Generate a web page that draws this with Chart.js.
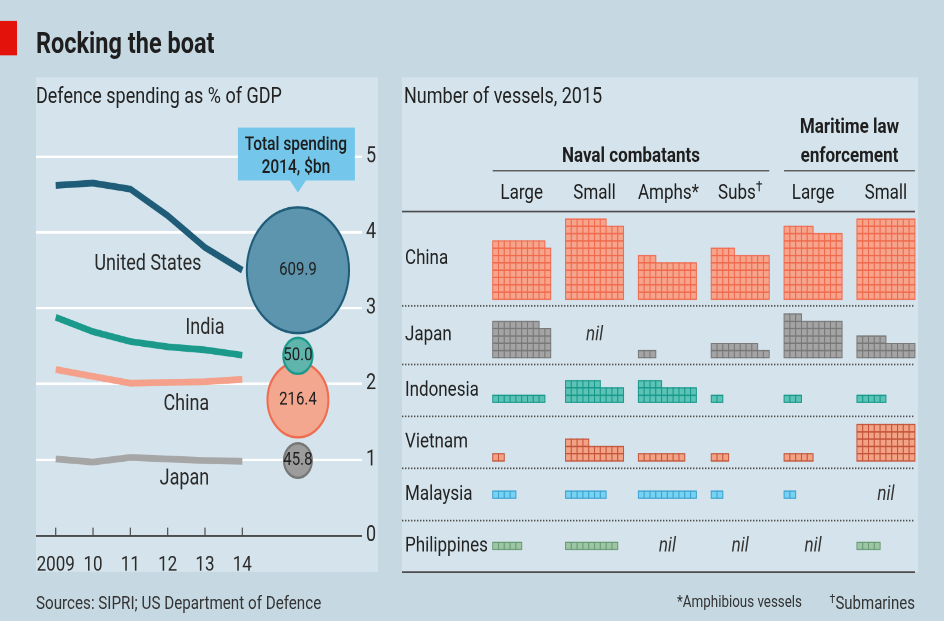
<!DOCTYPE html>
<html>
<head>
<meta charset="utf-8">
<script src="https://cdn.jsdelivr.net/npm/chart.js@4.4.1/dist/chart.umd.min.js"></script>
<style>
  html, body { margin: 0; padding: 0; background: #c6d9e3; }
  body { width: 944px; height: 621px; overflow: hidden; }
  #page { position: relative; width: 944px; height: 505px; transform: scaleY(1.2297); transform-origin: 0 0;
          font-family: Roboto, 'Noto Sans', sans-serif; color: #222; }
  .abs { position: absolute; line-height: 1; white-space: nowrap; }
  .panel { position: absolute; background: #d5e4ec; }
  sup { font-size: 70%; vertical-align: 0.45em; line-height: 0; }
</style>
</head>
<body>
<div id="page">
  <div class="abs" style="left:0;top:17px;width:17px;height:28px;background:#e3120b"></div>
  <div class="abs" style="left:36px;top:24px;font-size:23.5px;font-weight:700;color:#1e1e1e">Rocking the boat</div>
  <div class="panel" style="left:36px;top:63.4px;width:342px;height:401.8px"></div>
  <div class="panel" style="left:402px;top:63.4px;width:516px;height:401.8px"></div>
  <div class="abs" style="left:36px;top:68.5px;font-size:18px">Defence spending as % of GDP</div>
  <div class="abs" style="left:404px;top:68.5px;font-size:18px">Number of vessels, 2015</div>
  <div class="abs" style="left:36px;top:63.4px;width:342px;height:412px"><canvas id="gdp"></canvas></div>
  <div class="abs" style="left:402px;top:63.4px;width:516px;height:405.8px"><canvas id="vessels"></canvas></div>
  <div class="abs" style="left:36px;top:482.5px;font-size:15.2px;color:#333">Sources: SIPRI; US Department of Defence</div>
  <div class="abs" style="left:677px;top:482.5px;font-size:13.4px;color:#333">*Amphibious vessels</div>
  <div class="abs" style="right:29px;top:482.5px;font-size:15px;color:#333"><sup>†</sup>Submarines</div>
</div>
<script>
// defence spending, % of GDP
var years = [2009, 2010, 2011, 2012, 2013, 2014];
var yearLabels = ['2009', '10', '11', '12', '13', '14'];
var gdpTicks = [0, 1, 2, 3, 4, 5];
var usShare = [4.62, 4.65, 4.57, 4.22, 3.80, 3.50];
var indiaShare = [2.88, 2.69, 2.56, 2.49, 2.45, 2.38];
var chinaShare = [2.19, 2.10, 2.01, 2.02, 2.03, 2.06];
var japanShare = [1.01, 0.97, 1.03, 1.01, 0.99, 0.98];
var spendNames = ['United States', 'India', 'China', 'Japan'];
var spend2014 = [609.9, 50.0, 216.4, 45.8];

// number of vessels, 2015 (0 = nil)
var vesselCountries = ['China', 'Japan', 'Indonesia', 'Vietnam', 'Malaysia', 'Philippines'];
var vesselTypes = ['Large', 'Small', 'Amphs', 'Subs', 'Large', 'Small'];
var chinaVessels = [79, 107, 53, 64, 95, 110];
var japanVessels = [48, 0, 3, 18, 53, 25];
var indonesiaVessels = [9, 26, 24, 2, 3, 5];
var vietnamVessels = [2, 24, 8, 3, 5, 50];
var malaysiaVessels = [4, 7, 10, 2, 2, 0];
var philippinesVessels = [5, 9, 0, 0, 0, 4];

// layout / styling
var lineCol = ['#1f5c78', '#1b9a8c', '#f4a08a', '#a6a6a6'];
var bubFill = ['#5e95ae', '#5fb5ac', '#f3a78f', '#9c9c9c'];
var bubEdge = ['#1f5c78', '#1b9a8c', '#ef6c50', '#777777'];
var bubbleX = 2015.49;
var bubbleY = [3.5, 2.37, 1.79, 0.99];
var namePos = [[2011.47, 3.58], [2013.0, 2.73], [2012.5, 1.73], [2012.45, 0.75]];

var cellFill = ['#f6a48c', '#a4a4a4', '#5cc3b6', '#f2a285', '#78d2f2', '#9dc6a4'];
var cellEdge = ['#f06a4e', '#797979', '#18998b', '#c4553b', '#3ba2d2', '#6b9a77'];
var groupStep = 12.56;
var rowBase = [37.3, 29.3, 23.2, 15.2, 10.1, 3.1];
var sepRows = [36.4, 28.4, 21.3, 14.2, 7.05];
var topRule = 49.3;

var FONT = "Roboto, 'Noto Sans', sans-serif";

// ---------- left: % of GDP lines + spending bubbles ----------
var gdpDecor = {
  id: 'gdpDecor',
  beforeDatasetsDraw: function(chart) {
    var ctx = chart.ctx, x = chart.scales.x, y = chart.scales.y;
    var base = y.getPixelForValue(0);
    ctx.save();
    ctx.strokeStyle = '#4d4d4d';
    ctx.lineWidth = 1.2;
    years.forEach(function(yr) {
      var px = x.getPixelForValue(yr);
      ctx.beginPath();
      ctx.moveTo(px, base);
      ctx.lineTo(px, base - 6.5);
      ctx.stroke();
    });
    ctx.restore();
  },
  afterDatasetsDraw: function(chart) {
    var ctx = chart.ctx, x = chart.scales.x, y = chart.scales.y;
    ctx.save();
    ctx.textAlign = 'center';
    ctx.textBaseline = 'middle';
    ctx.fillStyle = '#1e1e1e';
    ctx.font = '15px ' + FONT;
    spend2014.forEach(function(v, i) {
      ctx.fillText(v.toFixed(1), x.getPixelForValue(bubbleX), y.getPixelForValue(bubbleY[i]));
    });
    ctx.font = '18px ' + FONT;
    ctx.fillStyle = '#2a2a2a';
    spendNames.forEach(function(n, i) {
      ctx.fillText(n, x.getPixelForValue(namePos[i][0]), y.getPixelForValue(namePos[i][1]));
    });
    // callout
    var cx = x.getPixelForValue(bubbleX), y5 = y.getPixelForValue(5);
    ctx.fillStyle = '#74c7ea';
    ctx.beginPath();
    ctx.moveTo(cx - 60, y5 - 23.6);
    ctx.lineTo(cx + 57, y5 - 23.6);
    ctx.lineTo(cx + 57, y5 + 19.5);
    ctx.lineTo(cx + 8, y5 + 19.5);
    ctx.lineTo(cx, y5 + 29.3);
    ctx.lineTo(cx - 8, y5 + 19.5);
    ctx.lineTo(cx - 60, y5 + 19.5);
    ctx.closePath();
    ctx.fill();
    ctx.fillStyle = '#1e1e1e';
    ctx.font = '500 15.5px ' + FONT;
    ctx.textBaseline = 'alphabetic';
    ctx.fillText('Total spending', cx - 2, y5 - 5.5);
    ctx.fillText('2014, $bn', cx - 2, y5 + 13);
    ctx.restore();
  }
};

var gdpSets = [usShare, indiaShare, chinaShare, japanShare].map(function(vals, i) {
  return {
    type: 'line',
    data: years.map(function(yr, j) { return { x: yr, y: vals[j] }; }),
    borderColor: lineCol[i],
    borderWidth: 5.5,
    pointRadius: 0,
    tension: 0,
    fill: false,
    order: 10
  };
});
var bubbleOrder = [4, 2, 3, 1];
spend2014.forEach(function(v, i) {
  gdpSets.push({
    type: 'bubble',
    data: [{ x: bubbleX, y: bubbleY[i], r: 2.07 * Math.sqrt(v) }],
    backgroundColor: bubFill[i],
    borderColor: bubEdge[i],
    borderWidth: 2,
    order: bubbleOrder[i],
    clip: false
  });
});

new Chart(document.getElementById('gdp'), {
  type: 'line',
  data: { datasets: gdpSets },
  plugins: [gdpDecor],
  options: {
    responsive: true,
    maintainAspectRatio: false,
    devicePixelRatio: 2,
    animation: false,
    events: [],
    layout: { autoPadding: false, padding: { top: 64.3, left: 0, right: 0, bottom: 0 } },
    plugins: { legend: { display: false }, tooltip: { enabled: false } },
    scales: {
      x: {
        type: 'linear',
        min: 2008.472,
        max: 2017.207,
        afterBuildTicks: function(s) { s.ticks = years.map(function(v) { return { value: v }; }); },
        afterFit: function(s) { s.height = 39.5; s.paddingLeft = 0; s.paddingRight = 0; },
        grid: { display: false },
        border: { display: false },
        ticks: {
          autoSkip: false, maxRotation: 0, padding: 6, color: '#2a2a2a',
          font: { family: FONT, size: 17 },
          callback: function(v) { return yearLabels[years.indexOf(v)]; }
        }
      },
      y: {
        position: 'right',
        min: 0,
        max: 5,
        afterBuildTicks: function(s) { s.ticks = gdpTicks.map(function(v) { return { value: v }; }); },
        afterFit: function(s) { s.width = 16; },
        border: { display: false },
        grid: {
          drawTicks: false,
          color: function(c) { return c.tick && c.tick.value === 0 ? '#4d4d4d' : '#ffffff'; },
          lineWidth: function(c) { return c.tick && c.tick.value === 0 ? 1.5 : 2; }
        },
        ticks: { padding: 4, color: '#2a2a2a', font: { family: FONT, size: 18 } }
      }
    }
  }
});

// ---------- right: vessel waffles ----------
var vesselRows = [chinaVessels, japanVessels, indonesiaVessels, vietnamVessels, malaysiaVessels, philippinesVessels];

var vesselSets = vesselRows.map(function(counts, ci) {
  var pts = [];
  counts.forEach(function(n, g) {
    for (var k = 0; k < n; k++) {
      pts.push({ x: g * groupStep + (k % 10) + 0.5, y: rowBase[ci] + Math.floor(k / 10) + 0.5 });
    }
  });
  return {
    label: vesselCountries[ci],
    data: pts,
    pointStyle: 'rect',
    pointRadius: 4.1,
    backgroundColor: cellFill[ci],
    borderColor: cellEdge[ci],
    borderWidth: 1
  };
});

var vesselDecor = {
  id: 'vesselDecor',
  beforeDatasetsDraw: function(chart) {
    var ctx = chart.ctx, a = chart.chartArea, x = chart.scales.x, y = chart.scales.y;
    ctx.save();
    ctx.strokeStyle = '#4d4d4d';
    ctx.lineWidth = 1.4;
    [topRule, 0].forEach(function(r) {
      var py = y.getPixelForValue(r);
      ctx.beginPath(); ctx.moveTo(a.left, py); ctx.lineTo(a.right - 3, py); ctx.stroke();
    });
    ctx.setLineDash([1.4, 1.6]);
    sepRows.forEach(function(r) {
      var py = y.getPixelForValue(r);
      ctx.beginPath(); ctx.moveTo(a.left, py); ctx.lineTo(a.right - 3, py); ctx.stroke();
    });
    ctx.setLineDash([]);
    ctx.lineWidth = 1.2;
    var uy = y.getPixelForValue(54.9);
    ctx.beginPath();
    ctx.moveTo(x.getPixelForValue(0), uy); ctx.lineTo(x.getPixelForValue(3 * groupStep + 10), uy);
    ctx.moveTo(x.getPixelForValue(4 * groupStep), uy); ctx.lineTo(x.getPixelForValue(5 * groupStep + 10), uy);
    ctx.stroke();

    // headers
    ctx.fillStyle = '#1e1e1e';
    ctx.textAlign = 'center';
    ctx.textBaseline = 'alphabetic';
    ctx.font = 'bold 17px ' + FONT;
    ctx.fillText('Naval combatants', x.getPixelForValue(1.5 * groupStep + 5), y.getPixelForValue(56.1));
    ctx.fillText('Maritime law', x.getPixelForValue(4.5 * groupStep + 5), y.getPixelForValue(60.1));
    ctx.fillText('enforcement', x.getPixelForValue(4.5 * groupStep + 5), y.getPixelForValue(56.1));
    ctx.font = '17px ' + FONT;
    vesselTypes.forEach(function(t, g) {
      var cx = x.getPixelForValue(g * groupStep + 5), cy = y.getPixelForValue(51.1);
      var mark = g === 2 ? '*' : g === 3 ? '†' : '';
      if (!mark) { ctx.fillText(t, cx, cy); return; }
      ctx.font = '17px ' + FONT;
      var w = ctx.measureText(t).width;
      ctx.font = '12px ' + FONT;
      var mw = ctx.measureText(mark).width;
      var left = cx - (w + mw) / 2;
      ctx.textAlign = 'left';
      ctx.font = '17px ' + FONT;
      ctx.fillText(t, left, cy);
      if (g === 2) { ctx.fillText(mark, left + w, cy); }
      else { ctx.font = '12px ' + FONT; ctx.fillText(mark, left + w, cy - 6); }
      ctx.textAlign = 'center';
      ctx.font = '17px ' + FONT;
    });

    // country labels + nil
    var bands = [topRule].concat(sepRows, [0]);
    vesselCountries.forEach(function(c, ci) {
      var mid = y.getPixelForValue((bands[ci] + bands[ci + 1]) / 2);
      ctx.textBaseline = 'middle';
      ctx.textAlign = 'left';
      ctx.font = '17px ' + FONT;
      ctx.fillStyle = '#222';
      ctx.fillText(c, a.left + 3, mid);
      ctx.textAlign = 'center';
      ctx.font = 'italic 17px ' + FONT;
      ctx.fillStyle = '#333';
      vesselRows[ci].forEach(function(n, g) {
        if (n === 0) ctx.fillText('nil', x.getPixelForValue(g * groupStep + 5), mid);
      });
    });
    ctx.restore();
  }
};

new Chart(document.getElementById('vessels'), {
  type: 'scatter',
  data: { datasets: vesselSets },
  plugins: [vesselDecor],
  options: {
    responsive: true,
    maintainAspectRatio: false,
    devicePixelRatio: 2,
    animation: false,
    events: [],
    layout: { autoPadding: false, padding: 0 },
    plugins: { legend: { display: false }, tooltip: { enabled: false } },
    scales: {
      x: { type: 'linear', display: false, min: -15.638, max: 73.33 },
      y: { type: 'linear', display: false, min: -0.673, max: 67.64 }
    }
  }
});
</script>
</body>
</html>
